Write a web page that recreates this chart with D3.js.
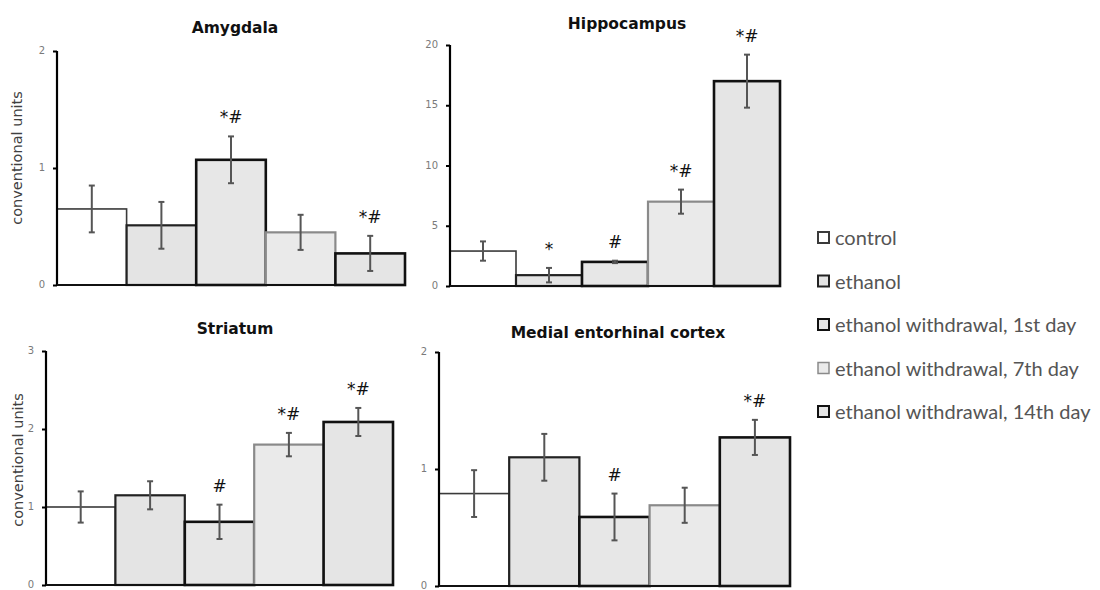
<!DOCTYPE html>
<html>
<head>
<meta charset="utf-8">
<script src="https://cdn.jsdelivr.net/npm/d3@7"></script>
<style>
  body { margin: 0; background: #fff; }
  svg { display: block; }
</style>
</head>
<body>
<svg id="chart" width="1100" height="590"></svg>
<script>
// groups (legend order)
const groups = ["control", "ethanol", "ethanol withdrawal, 1st day", "ethanol withdrawal, 7th day", "ethanol withdrawal, 14th day"];

const regions = ["Amygdala", "Hippocampus", "Striatum", "Medial entorhinal cortex"];

// mean values per region
const amygdalaVals = [0.65, 0.51, 1.07, 0.45, 0.27];
const hippocampusVals = [2.9, 0.9, 2.0, 7.0, 17.0];
const striatumVals = [1.0, 1.15, 0.81, 1.8, 2.09];
const entorhinalVals = [0.79, 1.1, 0.59, 0.69, 1.27];

// error bar half-widths
const amygdalaErr = [0.2, 0.2, 0.2, 0.15, 0.15];
const hippocampusErr = [0.8, 0.6, 0.1, 1.0, 2.2];
const striatumErr = [0.2, 0.18, 0.22, 0.15, 0.18];
const entorhinalErr = [0.2, 0.2, 0.2, 0.15, 0.15];

// significance marks
const amygdalaSig = ["", "", "*#", "", "*#"];
const hippocampusSig = ["", "*", "#", "*#", "*#"];
const striatumSig = ["", "", "#", "*#", "*#"];
const entorhinalSig = ["", "", "#", "", "*#"];

// y-axis tick labels
const amygdalaTicks = [0, 1, 2];
const hippocampusTicks = [0, 5, 10, 15, 20];
const striatumTicks = [0, 1, 2, 3];
const entorhinalTicks = [0, 1, 2];

const yLabel = "conventional units";

// bar styles by group
const fills = ["#ffffff", "#e4e4e4", "#e7e7e7", "#eaeaea", "#e5e5e5"];
const strokes = ["#3a3a3a", "#222222", "#111111", "#8a8a8a", "#111111"];
const strokeW = [1.6, 2.2, 2.6, 2.2, 2.6];

// layout of the four panels
const panels = [
  { name: regions[0], vals: amygdalaVals, err: amygdalaErr, sig: amygdalaSig, ticks: amygdalaTicks, x0: 57, x1: 405, yTop: 51, y0: 285, showLabel: true, titleX: 235, titleY: 33, labelX: 22, labelY: 158 },
  { name: regions[1], vals: hippocampusVals, err: hippocampusErr, sig: hippocampusSig, ticks: hippocampusTicks, x0: 450, x1: 780, yTop: 45, y0: 286, showLabel: false, titleX: 627, titleY: 29 },
  { name: regions[2], vals: striatumVals, err: striatumErr, sig: striatumSig, ticks: striatumTicks, x0: 46, x1: 393, yTop: 351, y0: 585, showLabel: true, titleX: 235, titleY: 334, labelX: 23, labelY: 460 },
  { name: regions[3], vals: entorhinalVals, err: entorhinalErr, sig: entorhinalSig, ticks: entorhinalTicks, x0: 439, x1: 790, yTop: 352, y0: 586, showLabel: false, titleX: 618, titleY: 338 }
];

const svg = d3.select("#chart");

panels.forEach(p => {
  const g = svg.append("g");
  const ticks = p.ticks;

  const x = d3.scaleBand()
    .domain(groups)
    .range([p.x0, p.x1])
    .padding(0);

  const y = d3.scaleLinear()
    .domain([0, ticks[ticks.length - 1]])
    .range([p.y0, p.yTop]);

  const data = groups.map((gName, i) => ({ group: gName, i: i, v: p.vals[i], e: p.err[i], s: p.sig[i] }));

  // bars
  g.selectAll(".bar")
    .data(data)
    .enter()
    .append("rect")
    .attr("class", "bar")
    .attr("x", d => x(d.group))
    .attr("y", d => y(d.v))
    .attr("width", x.bandwidth())
    .attr("height", d => p.y0 - y(d.v))
    .attr("fill", d => fills[d.i])
    .attr("stroke", d => strokes[d.i])
    .attr("stroke-width", d => strokeW[d.i]);

  // error bars
  const eb = g.selectAll(".err")
    .data(data)
    .enter()
    .append("g")
    .attr("class", "err")
    .attr("stroke", "#555")
    .attr("stroke-width", 2);
  const cx = d => x(d.group) + x.bandwidth() / 2;
  eb.append("line")
    .attr("x1", cx).attr("x2", cx)
    .attr("y1", d => y(d.v + d.e)).attr("y2", d => y(d.v - d.e));
  eb.append("line")
    .attr("x1", d => cx(d) - 3).attr("x2", d => cx(d) + 3)
    .attr("y1", d => y(d.v + d.e)).attr("y2", d => y(d.v + d.e));
  eb.append("line")
    .attr("x1", d => cx(d) - 3).attr("x2", d => cx(d) + 3)
    .attr("y1", d => y(d.v - d.e)).attr("y2", d => y(d.v - d.e));

  // significance marks
  g.selectAll(".sig")
    .data(data.filter(d => d.s))
    .enter()
    .append("text")
    .attr("class", "sig")
    .attr("x", cx)
    .attr("y", d => y(d.v + d.e) - 13)
    .attr("text-anchor", "middle")
    .attr("font-family", "DejaVu Sans, sans-serif")
    .attr("font-size", 17)
    .attr("fill", "#111")
    .text(d => d.s);

  // axes
  const yAxis = d3.axisLeft(y)
    .tickValues(ticks)
    .tickSize(4)
    .tickPadding(8)
    .tickFormat(d3.format("d"));
  const ax = g.append("g")
    .attr("transform", "translate(" + p.x0 + ",0)")
    .call(yAxis);
  ax.select(".domain").attr("stroke", "#000").attr("stroke-width", 2.2).attr("d", "M0," + p.yTop + "V" + p.y0);
  ax.selectAll(".tick line").attr("stroke", "#000").attr("stroke-width", 2);
  ax.selectAll(".tick text")
    .attr("fill", "#7a7a7a")
    .attr("font-family", "DejaVu Sans, sans-serif")
    .attr("font-size", 10)
    .attr("dy", "0.25em");

  g.append("line")
    .attr("x1", p.x0).attr("x2", p.x1)
    .attr("y1", p.y0).attr("y2", p.y0)
    .attr("stroke", "#111")
    .attr("stroke-width", 2);

  // title
  g.append("text")
    .attr("x", p.titleX)
    .attr("y", p.titleY)
    .attr("text-anchor", "middle")
    .attr("font-family", "DejaVu Sans, sans-serif")
    .attr("font-weight", "bold")
    .attr("font-size", 15.5)
    .attr("fill", "#111")
    .text(p.name);

  if (p.showLabel) {
    g.append("text")
      .attr("transform", "translate(" + p.labelX + "," + p.labelY + ") rotate(-90)")
      .attr("text-anchor", "middle")
      .attr("font-family", "DejaVu Sans, sans-serif")
      .attr("font-size", 14.5)
      .attr("fill", "#404040")
      .text(yLabel);
  }
});

// legend
const legend = svg.append("g").attr("transform", "translate(818,238)");
const rows = legend.selectAll(".row")
  .data(groups)
  .enter()
  .append("g")
  .attr("class", "row")
  .attr("transform", (d, i) => "translate(0," + i * 43.5 + ")");
rows.append("rect")
  .attr("x", 0).attr("y", -6)
  .attr("width", 11).attr("height", 11)
  .attr("fill", (d, i) => fills[i])
  .attr("stroke", (d, i) => strokes[i])
  .attr("stroke-width", (d, i) => i === 3 ? 1.5 : 2);
rows.append("text")
  .attr("x", 17)
  .attr("y", 7)
  .attr("font-family", "Lato, sans-serif")
  .attr("font-size", 20)
  .attr("fill", "#555")
  .text(d => d);
</script>
</body>
</html>
